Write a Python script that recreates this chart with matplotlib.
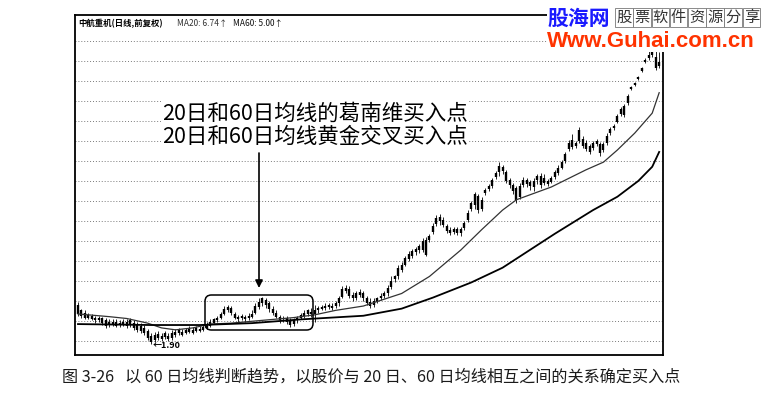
import numpy as np
import matplotlib
matplotlib.use("Agg")
import matplotlib.pyplot as plt
from matplotlib.patches import FancyBboxPatch, Rectangle
from matplotlib.ticker import NullLocator

plt.rcParams['font.family'] = ['Noto Sans CJK SC', 'DejaVu Sans']

# ---------------- data (daily candles, price) ----------------
open_ = [2.31,2.25,2.22,2.17,2.19,2.17,2.14,2.16,2.14,2.12,
         2.10,2.12,2.11,2.09,2.12,2.14,2.11,2.09,2.08,2.06,
         2.03,1.98,1.99,1.96,1.98,1.97,1.98,1.96,1.99,2.01,
         2.02,2.01,2.02,2.04,2.03,2.05,2.04,2.06,2.08,2.11,
         2.14,2.16,2.21,2.26,2.28,2.21,2.18,2.16,2.18,2.16,
         2.18,2.22,2.29,2.34,2.37,2.33,2.27,2.22,2.18,2.15,
         2.17,2.14,2.10,2.14,2.17,2.19,2.21,2.23,2.21,2.25,
         2.27,2.28,2.29,2.30,2.30,2.33,2.41,2.48,2.51,2.43,
         2.40,2.43,2.46,2.40,2.35,2.31,2.35,2.39,2.42,2.45,
         2.53,2.63,2.67,2.76,2.83,2.92,2.96,3.02,3.05,3.05,
         3.21,3.21,3.34,3.48,3.60,3.55,3.45,3.38,3.34,3.39,
         3.33,3.41,3.55,3.75,3.83,4.01,3.75,4.07,4.15,4.21,
         4.41,4.52,4.64,4.52,4.34,4.23,4.17,3.99,4.23,4.34,
         4.30,4.19,4.34,4.43,4.28,4.32,4.30,4.41,4.50,4.61,
         4.78,5.08,5.31,5.15,5.28,5.34,5.23,5.15,5.10,5.21,
         5.21,5.05,5.23,5.50,5.64,5.82,6.06,6.03,6.40,6.87,
         7.01,7.22,7.52,7.87,8.03,8.15,8.07,7.87]
close = [2.21,2.19,2.17,2.20,2.15,2.14,2.17,2.11,2.08,2.09,
         2.12,2.08,2.09,2.12,2.08,2.09,2.06,2.04,2.03,2.01,
         1.96,1.92,1.94,2.00,1.95,2.01,1.95,2.01,2.02,2.04,
         1.99,2.04,2.06,2.01,2.06,2.03,2.07,2.10,2.12,2.15,
         2.17,2.21,2.27,2.29,2.22,2.17,2.15,2.19,2.15,2.19,
         2.21,2.30,2.35,2.39,2.31,2.27,2.22,2.18,2.14,2.17,
         2.12,2.09,2.14,2.17,2.20,2.22,2.25,2.21,2.26,2.28,
         2.29,2.30,2.31,2.28,2.34,2.40,2.50,2.52,2.42,2.39,
         2.45,2.47,2.39,2.34,2.30,2.36,2.39,2.42,2.46,2.52,
         2.61,2.67,2.79,2.83,2.93,2.99,3.04,3.07,3.12,3.19,
         2.98,3.28,3.45,3.59,3.53,3.46,3.36,3.33,3.39,3.33,
         3.39,3.50,3.68,3.87,4.05,3.73,3.93,4.13,4.21,4.34,
         4.50,4.66,4.54,4.32,4.23,4.11,3.93,4.21,4.34,4.26,
         4.21,4.32,4.43,4.23,4.39,4.26,4.39,4.52,4.61,4.75,
         4.95,5.23,5.13,5.23,5.59,5.15,5.08,5.00,5.23,5.28,
         4.98,5.21,5.42,5.61,5.70,5.99,6.21,6.30,6.63,6.94,
         7.08,7.30,7.63,7.95,8.15,8.27,7.63,7.71]
high = [2.35,2.27,2.25,2.22,2.21,2.19,2.19,2.18,2.16,2.15,
        2.15,2.15,2.14,2.15,2.15,2.17,2.14,2.12,2.11,2.09,
        2.05,2.01,2.02,2.03,2.01,2.03,2.01,2.04,2.05,2.06,
        2.05,2.06,2.08,2.07,2.08,2.08,2.09,2.12,2.15,2.17,
        2.19,2.23,2.30,2.31,2.30,2.23,2.20,2.21,2.20,2.22,
        2.25,2.34,2.39,2.41,2.40,2.36,2.30,2.25,2.20,2.19,
        2.19,2.16,2.17,2.19,2.22,2.26,2.27,2.28,2.31,2.30,
        2.31,2.33,2.34,2.34,2.36,2.42,2.55,2.56,2.55,2.47,
        2.48,2.50,2.48,2.42,2.39,2.40,2.41,2.45,2.48,2.56,
        2.67,2.69,2.83,2.87,2.96,3.04,3.07,3.10,3.15,3.24,
        3.26,3.31,3.50,3.64,3.66,3.60,3.48,3.43,3.43,3.43,
        3.43,3.53,3.73,3.91,4.09,4.05,3.99,4.17,4.26,4.39,
        4.54,4.75,4.68,4.57,4.39,4.28,4.21,4.28,4.41,4.39,
        4.34,4.39,4.48,4.50,4.48,4.36,4.43,4.57,4.68,4.80,
        5.00,5.31,5.47,5.28,5.67,5.42,5.31,5.21,5.28,5.34,
        5.26,5.26,5.50,5.67,5.76,6.06,6.27,6.37,6.70,6.97,
        7.11,7.33,7.67,8.03,8.36,8.44,8.44,8.27]
low = [2.19,2.17,2.15,2.15,2.14,2.11,2.12,2.09,2.06,2.07,
       2.08,2.07,2.07,2.08,2.06,2.07,2.04,2.02,2.01,1.99,
       1.94,1.90,1.92,1.94,1.93,1.95,1.93,1.94,1.97,1.99,
       1.98,2.00,2.01,2.00,2.02,2.02,2.03,2.05,2.07,2.10,
       2.12,2.15,2.20,2.23,2.20,2.15,2.12,2.14,2.12,2.14,
       2.16,2.21,2.27,2.30,2.28,2.23,2.20,2.16,2.11,2.12,
       2.10,2.07,2.08,2.11,2.15,2.17,2.19,2.18,2.12,2.22,
       2.25,2.26,2.27,2.26,2.28,2.30,2.40,2.46,2.40,2.36,
       2.37,2.41,2.36,2.31,2.28,2.29,2.33,2.37,2.40,2.42,
       2.51,2.60,2.64,2.73,2.82,2.89,2.93,2.98,3.01,3.02,
       2.96,3.18,3.31,3.45,3.46,3.43,3.33,3.29,3.31,3.29,
       3.28,3.38,3.52,3.72,3.75,3.68,3.72,4.03,4.11,4.17,
       4.36,4.43,4.48,4.28,4.17,4.05,3.87,3.95,4.19,4.19,
       4.13,4.11,4.26,4.17,4.23,4.21,4.28,4.36,4.45,4.59,
       4.73,5.03,5.08,5.10,5.23,5.10,5.03,4.95,5.05,5.15,
       4.90,5.00,5.18,5.45,5.59,5.79,5.99,5.96,6.34,6.83,
       6.97,7.19,7.48,7.83,7.95,8.07,7.56,7.63]

# moving averages read at selected trading days
ma20_day = [0, 9, 14, 20, 24, 28, 33, 38, 44, 53, 62, 68, 74, 82, 93, 101,
            110, 116, 122, 126, 136, 146, 151, 155, 160, 165, 167]
ma20_val = [2.21, 2.18, 2.16, 2.11, 2.06, 2.04, 2.06, 2.10, 2.11, 2.14, 2.17,
            2.20, 2.25, 2.30, 2.45, 2.67, 3.05, 3.38, 3.73, 3.93, 4.19, 4.57,
            4.75, 5.05, 5.50, 6.08, 6.74]
ma60_day = [0, 21, 35, 50, 64, 73, 82, 93, 102, 113, 122, 137, 148, 155, 161, 165, 167]
ma60_val = [2.10, 2.09, 2.09, 2.11, 2.15, 2.17, 2.19, 2.27, 2.40, 2.59, 2.79,
            3.31, 3.73, 3.99, 4.32, 4.64, 5.00]

title_text = "中航重机(日线,前复权)"
ma20_text = "MA20: 6.74↑"
ma60_text = "MA60: 5.00↑"
low_label = "←1.90"
note1 = "20日和60日均线的葛南维买入点"
note2 = "20日和60日均线黄金交叉买入点"
caption = "图 3-26   以 60 日均线判断趋势，以股价与 20 日、60 日均线相互之间的关系确定买入点"

# ---------------- figure ----------------
W, H = 766, 396
fig = plt.figure(figsize=(W / 100, H / 100), dpi=100)
fig.patch.set_facecolor('white')

def fx(px):
    return px / W

def fy(py):
    return 1 - py / H

L0, R0, T0, B0 = 75, 663, 15, 355
ax = fig.add_axes([fx(L0), fy(B0), fx(R0) - fx(L0), fy(T0) - fy(B0)])
ax.set_yscale('log')
x = np.arange(len(close))
ax.set_xlim(-0.86, 168.1)
ax.set_ylim(1.797, 9.97)

grid_levels = 8.748 * 0.9041 ** np.arange(16)
ax.set_yticks(grid_levels)
ax.yaxis.set_minor_locator(NullLocator())
ax.set_yticklabels([])
ax.set_xticks([])
ax.tick_params(length=0)
ax.grid(axis='y', color='#7a7a7a', ls=(0, (1, 2)), lw=0.7)
ax.set_axisbelow(True)

for s in ax.spines.values():
    s.set_color('black')
    s.set_linewidth(1.3)

o = np.array(open_)
c = np.array(close)
ax.vlines(x, low, high, color='black', lw=0.6, zorder=3)
ax.vlines(x, np.minimum(o, c), np.maximum(o, c), color='black', lw=1.7, zorder=3)

ax.plot(ma20_day, ma20_val, color='#333333', lw=0.9, zorder=4)
ax.plot(ma60_day, ma60_val, color='black', lw=1.3, zorder=4)

# low label
ax.text(21.4, 1.885, low_label, fontsize=6.5, weight='bold', va='center', ha='left',
        zorder=5)

# header
fig.text(fx(78), fy(23.5), title_text, fontsize=6, weight='bold', va='center', ha='left')
fig.text(fx(177), fy(23.5), ma20_text, fontsize=6, color='#333333', va='center', ha='left')
fig.text(fx(233), fy(23.5), ma60_text, fontsize=6, color='#111111', va='center', ha='left')

# annotation texts
for ty, t in [(113.5, note1), (136.5, note2)]:
    fig.text(fx(162), fy(ty), t, fontsize=15.5, va='center', ha='left', color='black',
             bbox=dict(boxstyle='square,pad=0.05', fc='white', ec='none'), zorder=6)

# arrow
def axx(px):
    return (px - L0) / (R0 - L0)

def axy(py):
    return (B0 - py) / (B0 - T0)

ax.annotate('', xy=(axx(259), axy(288)), xytext=(axx(259), axy(153)),
            xycoords='axes fraction', textcoords='axes fraction',
            arrowprops=dict(arrowstyle='-|>', color='black', lw=1.2,
                            mutation_scale=11, shrinkA=0, shrinkB=0), zorder=6)

# rounded box
asp = (R0 - L0) / (B0 - T0)
box = FancyBboxPatch((axx(205), axy(330)), axx(313) - axx(205), axy(295) - axy(330),
                     boxstyle='round,pad=0,rounding_size=0.011', mutation_aspect=asp,
                     transform=ax.transAxes, fill=False, ec='black', lw=1.1, zorder=6)
ax.add_patch(box)

# caption
fig.text(fx(62), fy(377), caption, fontsize=11.6, va='center', ha='left', color='#1a1a1a')

# watermark block
fig.add_artist(Rectangle((fx(547), fy(52)), 1 - fx(547), fy(0) - fy(52),
                         transform=fig.transFigure, fc='white', ec='none', zorder=10))
fig.text(fx(547), fy(18), "股海网", color='#1a1aff', fontsize=15, weight='bold',
         va='center', ha='left', zorder=11)
for k, ch in enumerate("股票软件资源分享"):
    fig.text(fx(615 + 18.2 * k + 9), fy(17.5), ch, ha='center', va='center', fontsize=11,
             color='#333333', zorder=11,
             bbox=dict(boxstyle='square,pad=0.08', fc='white', ec='#777777', lw=0.6))
fig.text(fx(547), fy(41.5), "Www.Guhai.com.cn", family='Liberation Sans', weight='bold',
         color='#ff3300', fontsize=16, va='center', ha='left', zorder=11)

fig.savefig('out.png', dpi=100)
